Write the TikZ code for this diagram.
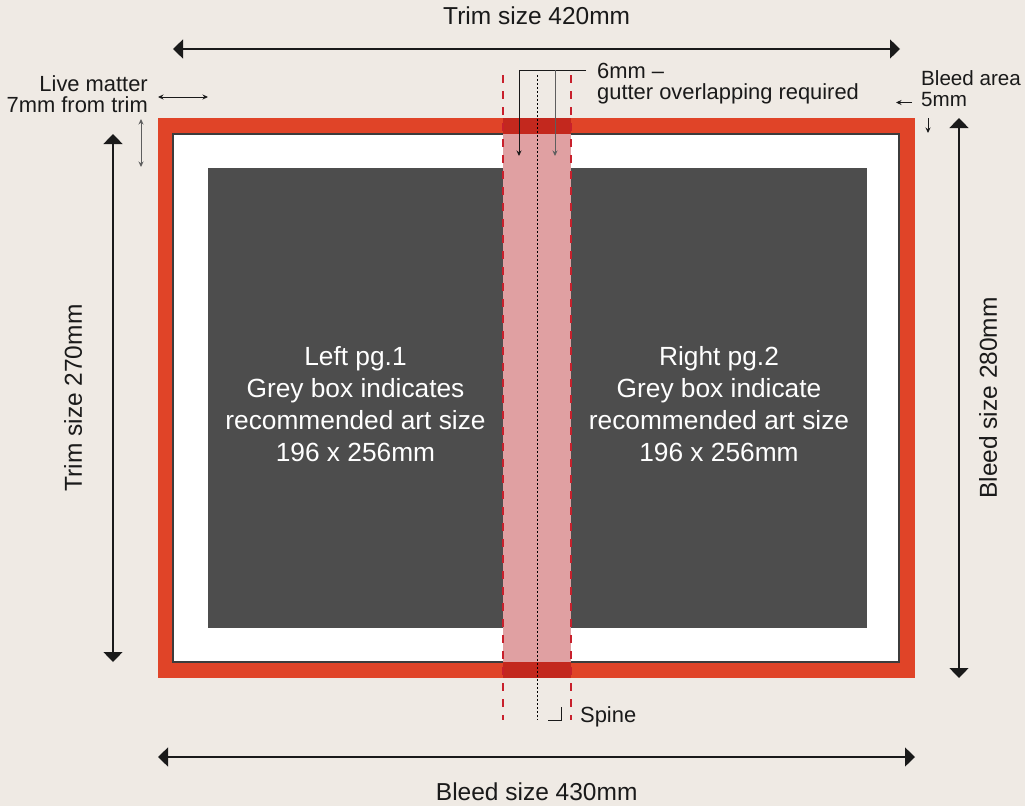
\documentclass[tikz,border=0pt]{standalone}
\usepackage{fontspec}
\setmainfont{Liberation Sans}
\usetikzlibrary{arrows.meta}
\definecolor{bg}{HTML}{EFEAE4}
\definecolor{bleedred}{HTML}{E04428}
\definecolor{artgrey}{HTML}{4D4D4D}
\definecolor{gutterpink}{HTML}{E0A0A2}
\definecolor{gutterdark}{HTML}{C3281E}
\definecolor{dashred}{HTML}{C8202C}
\definecolor{ink}{HTML}{1A1A1A}
\definecolor{softink}{HTML}{5E5E5E}
\tikzset{
  dimarrow/.style={{Triangle[width=19pt,length=10pt]}-{Triangle[width=19pt,length=10pt]}, line width=1.3pt, draw=ink},
  tinyhead/.style={-{Stealth[length=5.5pt,width=5pt]}, line width=0.9pt},
  tinyboth/.style={{Stealth[length=5.5pt,width=5pt]}-{Stealth[length=5.5pt,width=5pt]}, line width=0.9pt},
  biglabel/.style={inner sep=0pt, text=ink, font=\fontsize{24.5}{28}\selectfont},
  smalllabel/.style={inner sep=0pt, text=ink, font=\fontsize{21.9}{21.5}\selectfont},
  artlabel/.style={inner sep=0pt, text=white, align=center, font=\fontsize{26.3}{32}\selectfont},
  guideline/.style={dashred, line width=1.3pt, dash pattern=on 8pt off 8pt},
  spineline/.style={black, line width=1pt, dash pattern=on 2pt off 2pt}
}
\begin{document}
\begin{tikzpicture}[x=1pt,y=-1pt]
\fill[bg] (0,0) rectangle (1025,806);
\useasboundingbox (0,0) rectangle (1025,806);

% bleed area, trim area, art boxes
\fill[bleedred] (158,118) rectangle (915,678);
\filldraw[fill=white, draw=ink!85, line width=1.2pt] (173,134) rectangle (899,662);
\fill[artgrey] (208,168) rectangle (503,628);
\fill[artgrey] (571,168) rectangle (867,628);

% gutter strip
\fill[gutterpink] (503,134) rectangle (571,662);
\fill[gutterdark] (503,118) rectangle (571,134);
\fill[gutterdark] (503,662) rectangle (571,678);

% guide lines
\coordinate (gLt) at (503,75); \coordinate (gLb) at (503,720);
\coordinate (gRt) at (571,75); \coordinate (gRb) at (571,720);
\coordinate (spT) at (537,75); \coordinate (spB) at (537,720);
\draw[guideline] (gLt) -- (gLb);
\draw[guideline] (gRt) -- (gRb);
\draw[spineline] (spT) -- (spB);

% art labels
\node[artlabel] (leftart) at (355.5,404.4) {Left pg.1\\Grey box indicates\\recommended art size\\196 x 256mm};
\node[artlabel] (rightart) at (719,404.4) {Right pg.2\\Grey box indicate\\recommended art size\\196 x 256mm};

% dimension arrows
\coordinate (trimL) at (173,49); \coordinate (trimR) at (900,49);
\coordinate (trimT) at (113,134); \coordinate (trimB) at (113,662);
\coordinate (bleedT) at (959,118); \coordinate (bleedB) at (959,678);
\coordinate (bleedL) at (158,757); \coordinate (bleedR) at (915,757);
\draw[dimarrow] (trimL) -- (trimR);
\draw[dimarrow] (trimT) -- (trimB);
\draw[dimarrow] (bleedT) -- (bleedB);
\draw[dimarrow] (bleedL) -- (bleedR);

\node[biglabel, anchor=base] (trimw) at (536.7,24) {Trim size 420mm};
\node[biglabel, anchor=base] (bleedw) at (536.7,800) {Bleed size 430mm};
\node[biglabel, rotate=90] (trimh) at (73,398) {Trim size 270mm};
\node[biglabel, rotate=90] (bleedh) at (988,398) {Bleed size 280mm};

% live matter
\node[smalllabel, align=right, anchor=south east] (live) at (148,113) {Live matter\\7mm from trim};
\coordinate (lmL) at (158,97); \coordinate (lmR) at (208,97);
\coordinate (lmT) at (141,119); \coordinate (lmB) at (141,167);
\draw[tinyboth, ink] (lmL) -- (lmR);
\draw[tinyboth, softink] (lmT) -- (lmB);

% bleed area
\node[smalllabel, font=\fontsize{20.6}{21.5}\selectfont, align=left, anchor=south west] (bleedarea) at (921,107) {Bleed area\\5mm};
\coordinate (baS) at (912,102.5); \coordinate (baE) at (896,102.5);
\coordinate (baT) at (928,118); \coordinate (baB) at (928,133);
\draw[tinyhead, ink] (baS) -- (baE);
\draw[tinyhead, ink] (baT) -- (baB);

% gutter callout
\node[smalllabel, align=left, anchor=north west] (gutter) at (597,63) {6mm --\\gutter overlapping required};
\coordinate (gcE) at (586,70); \coordinate (gcA) at (519,70); \coordinate (gcAb) at (519,156);
\coordinate (gcB) at (555,70); \coordinate (gcBb) at (555,156);
\draw[tinyhead, ink] (gcE) -- (gcA) -- (gcAb);
\draw[tinyhead, softink] (gcB) -- (gcBb);

% spine
\coordinate (smT) at (561,707); \coordinate (smC) at (561,720); \coordinate (smL) at (548,720);
\draw[ink, line width=0.9pt] (smT) -- (smC) -- (smL);
\node[smalllabel, anchor=base west] (spine) at (580,722) {Spine};
\end{tikzpicture}
\end{document}
